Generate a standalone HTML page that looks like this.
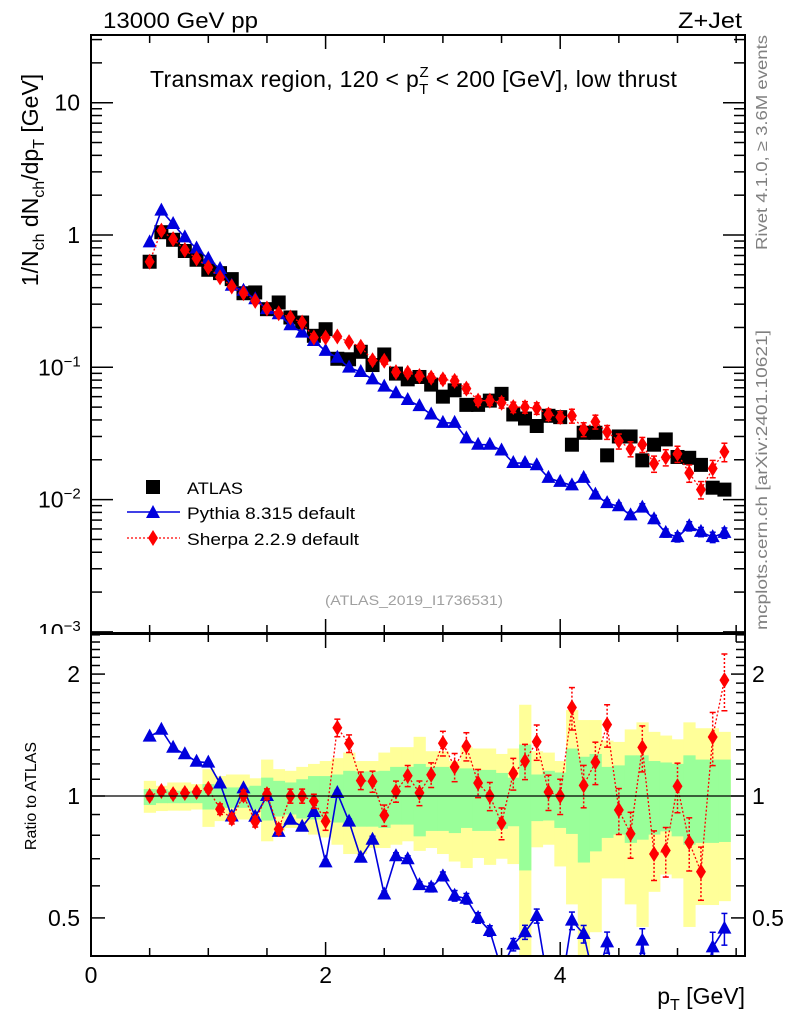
<!DOCTYPE html>
<html><head><meta charset="utf-8"><style>
html,body{margin:0;padding:0;background:#fff;overflow:hidden;width:786px;height:1024px;}
svg{display:block;font-family:"Liberation Sans",sans-serif;}
</style></head><body>
<svg id="chart" width="786" height="1024" viewBox="0 0 786 1024">
<defs>
<clipPath id="clipMain"><rect x="91" y="35" width="654" height="598"/></clipPath>
<clipPath id="clipRatio"><rect x="91" y="634" width="654" height="322"/></clipPath>
</defs>
<g id="bands" clip-path="url(#clipRatio)"></g>
<g id="grid"></g>
<g id="mainMarks" clip-path="url(#clipMain)"></g>
<g id="ratioMarks" clip-path="url(#clipRatio)"></g>
<g id="axes"></g>
<text x="103" y="28" font-size="22" textLength="155" lengthAdjust="spacingAndGlyphs">13000 GeV pp</text>
<text x="678" y="28" font-size="22" textLength="64" lengthAdjust="spacingAndGlyphs">Z+Jet</text>
<text x="150" y="87" font-size="23" letter-spacing="0.3">Transmax region, 120 &lt; p<tspan font-size="15" dy="7">T</tspan><tspan font-size="15" dx="-9" dy="-17">Z</tspan><tspan dy="10"> &lt; 200 [GeV], low thrust</tspan></text>
<text x="414" y="605" font-size="14" fill="#a0a0a0" text-anchor="middle" textLength="178" lengthAdjust="spacingAndGlyphs">(ATLAS_2019_I1736531)</text>
<text transform="translate(767,250) rotate(-90)" font-size="16" fill="#808080" textLength="215" lengthAdjust="spacingAndGlyphs">Rivet 4.1.0, ≥ 3.6M events</text>
<text transform="translate(767,630) rotate(-90)" font-size="16" fill="#808080" textLength="300" lengthAdjust="spacingAndGlyphs">mcplots.cern.ch [arXiv:2401.10621]</text>
<text transform="translate(38,180) rotate(-90)" font-size="23" text-anchor="middle">1/N<tspan font-size="16" dy="6">ch</tspan><tspan dy="-6"> dN</tspan><tspan font-size="16" dy="6">ch</tspan><tspan dy="-6">/dp</tspan><tspan font-size="16" dy="6">T</tspan><tspan dy="-6"> [GeV]</tspan></text>
<text transform="translate(36,796) rotate(-90)" font-size="16" text-anchor="middle">Ratio to ATLAS</text>
<text x="745" y="1004" font-size="23" text-anchor="end">p<tspan font-size="16" dy="6">T</tspan><tspan dy="-6"> [GeV]</tspan></text>
<g id="legend"></g>
</svg>
<script>
const xs = [0.5,0.6,0.7,0.8,0.9,1.0,1.1,1.2,1.3,1.4,1.5,1.6,1.7,1.8,1.9,2.0,2.1,2.2,2.3,2.4,2.5,2.6,2.7,2.8,2.9,3.0,3.1,3.2,3.3,3.4,3.5,3.6,3.7,3.8,3.9,4.0,4.1,4.2,4.3,4.4,4.5,4.6,4.7,4.8,4.9,5.0,5.1,5.2,5.3,5.4];
const atlas = [0.628,1.05,0.92,0.757,0.65,0.546,0.515,0.464,0.363,0.368,0.275,0.309,0.238,0.218,0.173,0.194,0.116,0.115,0.131,0.104,0.125,0.0896,0.0811,0.0845,0.074,0.060,0.067,0.052,0.052,0.056,0.063,0.044,0.041,0.036,0.043,0.042,0.026,0.032,0.032,0.0216,0.030,0.030,0.0198,0.026,0.0285,0.021,0.0207,0.0183,0.0123,0.0119];
const pythia = [0.88,1.53,1.21,0.96,0.79,0.66,0.553,0.413,0.379,0.327,0.275,0.252,0.208,0.183,0.158,0.133,0.118,0.0994,0.0922,0.0811,0.0714,0.0636,0.0566,0.0509,0.044,0.038,0.038,0.029,0.026,0.026,0.0235,0.0189,0.0189,0.0182,0.0146,0.0136,0.0128,0.0146,0.0109,0.0094,0.0089,0.0076,0.0087,0.0071,0.0056,0.0052,0.0063,0.0057,0.0052,0.0056];
const sherpa = [0.628,1.08,0.93,0.77,0.665,0.569,0.478,0.408,0.364,0.318,0.278,0.256,0.238,0.218,0.168,0.168,0.171,0.155,0.143,0.113,0.112,0.092,0.091,0.086,0.0835,0.081,0.079,0.069,0.056,0.056,0.054,0.050,0.050,0.049,0.044,0.042,0.043,0.034,0.0388,0.0324,0.0277,0.0242,0.0261,0.0187,0.0209,0.0222,0.0159,0.0119,0.0172,0.023];
const pythiaErr = [0.01,0.01,0.01,0.01,0.01,0.01,0.01,0.01,0.01,0.01,0.01,0.01,0.01,0.01,0.01,0.015,0.015,0.015,0.02,0.02,0.02,0.02,0.02,0.02,0.025,0.025,0.03,0.03,0.03,0.03,0.035,0.035,0.04,0.04,0.04,0.04,0.05,0.05,0.05,0.06,0.06,0.06,0.07,0.07,0.07,0.08,0.08,0.08,0.09,0.09];
const sherpaErr = [0.02,0.02,0.02,0.02,0.02,0.02,0.03,0.03,0.03,0.03,0.03,0.03,0.04,0.04,0.04,0.05,0.05,0.05,0.05,0.06,0.06,0.06,0.06,0.07,0.07,0.07,0.08,0.08,0.08,0.08,0.09,0.09,0.1,0.1,0.1,0.1,0.12,0.12,0.12,0.12,0.13,0.13,0.13,0.14,0.14,0.14,0.15,0.15,0.15,0.16];
const yellowHi = [1.09,1.06,1.08,1.08,1.07,1.165,1.12,1.13,1.13,1.106,1.23,1.165,1.154,1.18,1.20,1.22,1.24,1.28,1.22,1.22,1.28,1.32,1.32,1.40,1.29,1.29,1.22,1.32,1.31,1.31,1.27,1.31,1.68,1.29,1.28,1.22,1.63,1.54,1.54,1.37,1.36,1.46,1.52,1.44,1.41,1.38,1.52,1.47,1.47,1.44];
const yellowLo = [0.909,0.918,0.92,0.92,0.926,0.839,0.867,0.87,0.875,0.883,0.773,0.818,0.834,0.818,0.803,0.79,0.758,0.719,0.719,0.744,0.744,0.758,0.773,0.732,0.744,0.719,0.689,0.664,0.703,0.676,0.70,0.679,0.38,0.747,0.758,0.67,0.54,0.38,0.461,0.626,0.626,0.54,0.475,0.58,0.64,0.626,0.475,0.538,0.538,0.55];
const greenHi = [1.04,1.04,1.03,1.03,1.03,1.07,1.05,1.05,1.05,1.06,1.11,1.09,1.08,1.10,1.12,1.12,1.13,1.154,1.15,1.15,1.154,1.18,1.18,1.20,1.18,1.18,1.17,1.17,1.16,1.16,1.14,1.11,1.34,1.13,1.154,1.143,1.31,1.25,1.27,1.18,1.19,1.26,1.26,1.22,1.21,1.20,1.26,1.23,1.23,1.23];
const greenLo = [0.95,0.96,0.96,0.96,0.96,0.926,0.935,0.935,0.935,0.926,0.87,0.89,0.90,0.88,0.875,0.875,0.86,0.842,0.84,0.84,0.834,0.85,0.85,0.795,0.82,0.82,0.81,0.834,0.82,0.82,0.83,0.842,0.655,0.867,0.87,0.834,0.806,0.685,0.73,0.788,0.803,0.766,0.78,0.803,0.818,0.795,0.758,0.766,0.766,0.77];
const xTicks = [0,2,4];
const ratioTicks = [0.5,1,2];

const NS = "http://www.w3.org/2000/svg";
const X0 = 91, X1 = 745;
const xPx = v => X0 + v * 117.3;
const MT = 35, MB = 633;
const yMain = v => 102.7 + (1 - Math.log10(v)) * 132.3;
const RT = 634, RB = 956;
const yRatio = v => 796 - Math.log10(v) * 405;
function mk(tag, attrs, parent) {
  const e = document.createElementNS(NS, tag);
  for (const k in attrs) e.setAttribute(k, attrs[k]);
  parent.appendChild(e);
  return e;
}
const bands = document.getElementById('bands');
const axes = document.getElementById('axes');
const mainG = document.getElementById('mainMarks');
const ratioG = document.getElementById('ratioMarks');
const half = 0.05;
xs.forEach((x, i) => {
  const y = mk('rect', {x: xPx(x - half), y: yRatio(yellowHi[i]), width: xPx(x + half) - xPx(x - half) + 0.5, height: yRatio(yellowLo[i]) - yRatio(yellowHi[i]), fill: '#ffff99'}, bands);
  
  
});
xs.forEach((x, i) => {
  const g = mk('rect', {x: xPx(x - half), y: yRatio(greenHi[i]), width: xPx(x + half) - xPx(x - half) + 0.5, height: yRatio(greenLo[i]) - yRatio(greenHi[i]), fill: '#99ff99'}, bands);
  
  
});
const one = mk('line', {x1: X0, x2: X1, y1: yRatio(1), y2: yRatio(1), stroke: '#000', 'stroke-width': 1.3}, axes);



function tri(g, cx, cy, col) {
  return mk('polygon', {points: `${cx},${cy-8} ${cx-7},${cy+5} ${cx+7},${cy+5}`, fill: col}, g);
}
function dia(g, cx, cy, col) {
  return mk('polygon', {points: `${cx},${cy-8} ${cx+5},${cy} ${cx},${cy+8} ${cx-5},${cy}`, fill: col}, g);
}
function errBar(g, cx, y1, y2, col, dash) {
  const a = {x1: cx, x2: cx, y1: y1, y2: y2, stroke: col, 'stroke-width': 1.5};
  if (dash) a['stroke-dasharray'] = '2,2';
  mk('line', a, g);
  mk('line', {x1: cx-3, x2: cx+3, y1: y1, y2: y1, stroke: col, 'stroke-width': 1.5}, g);
  mk('line', {x1: cx-3, x2: cx+3, y1: y2, y2: y2, stroke: col, 'stroke-width': 1.5}, g);
}
function series(g, vals, errs, yfn, col, dash, shape, name) {
  const pts = xs.map((x, i) => xPx(x) + ',' + yfn(vals[i])).join(' ');
  const a = {points: pts, fill: 'none', stroke: col, 'stroke-width': dash ? 1.3 : 1.6};
  if (dash) a['stroke-dasharray'] = '2,2';
  const pl = mk('polyline', a, g);
  
  
  xs.forEach((x, i) => {
    const cx = xPx(x), cy = yfn(vals[i]);
    errBar(g, cx, yfn(vals[i] * (1 + errs[i])), yfn(vals[i] * (1 - errs[i])), col, dash);
    const m = shape(g, cx, cy, col);
    
    
  });
}
xs.forEach((x, i) => {
  const s = mk('rect', {x: xPx(x) - 7, y: yMain(atlas[i]) - 7, width: 14, height: 14, fill: '#000'}, mainG);
  
  
});
series(mainG, pythia, pythiaErr, yMain, '#0000dd', false, tri, 'pythia');
series(mainG, sherpa, sherpaErr, yMain, '#ff0000', true, dia, 'sherpa');
const pr = pythia.map((v, i) => v / atlas[i]);
const sr = sherpa.map((v, i) => v / atlas[i]);
series(ratioG, pr, pythiaErr, yRatio, '#0000dd', false, tri, 'pythia-ratio');
series(ratioG, sr, sherpaErr, yRatio, '#ff0000', true, dia, 'sherpa-ratio');

[[MT, MB, 'main-frame'], [RT, RB, 'ratio-frame']].forEach(([t, b, n]) => {
  const r = mk('rect', {x: X0, y: t, width: X1 - X0, height: b - t, fill: 'none', stroke: '#000', 'stroke-width': 2}, axes);
  
  
});
for (let v = 0; v <= 5.5; v += 0.5) {
  const major = Math.abs(v - Math.round(v / 2) * 2) < 1e-6;
  const L = major ? 14 : 8;
  [[MT, 1], [MB, -1], [RT, 1], [RB, -1]].forEach(([y, d]) => {
    mk('line', {x1: xPx(v), x2: xPx(v), y1: y, y2: y + d * L, stroke: '#000', 'stroke-width': 1.5}, axes);
  });
}
xTicks.forEach(v => {
  const t = mk('text', {x: xPx(v), y: 983, 'font-size': 23, 'text-anchor': 'middle'}, axes);
  t.textContent = v;
  
  
});
for (let e = -3; e <= 1; e++) {
  for (let m = 1; m <= 9; m++) {
    const v = m * Math.pow(10, e), y = yMain(v);
    if (y < MT || y > MB) continue;
    const L = m === 1 ? 22 : 11;
    mk('line', {x1: X0, x2: X0 + L, y1: y, y2: y, stroke: '#000', 'stroke-width': 1.5}, axes);
    mk('line', {x1: X1, x2: X1 - L, y1: y, y2: y, stroke: '#000', 'stroke-width': 1.5}, axes);
  }
}
const mainLabels = [['10', 10], ['1', 1]];
mainLabels.forEach(([s, v]) => {
  const t = mk('text', {x: 80, y: yMain(v) + 8, 'font-size': 23, 'text-anchor': 'end'}, axes);
  t.textContent = s;
  
  
});
[[-1, 0.1], [-2, 0.01], [-3, 0.001]].forEach(([e, v]) => {
  const t = mk('text', {x: 38, y: yMain(v) + 8, 'font-size': 23}, axes);
  t.innerHTML = '10<tspan font-size="15" dy="-9">' + (e === -1 ? '−1' : e === -2 ? '−2' : '−3') + '</tspan>';
  
  
});
mk('rect', {x: 30, y: MB + 1, width: 60, height: 20, fill: '#fff'}, axes);
for (let v = 0.4; v <= 2.55; v += 0.1) {
  const y = yRatio(v);
  if (y < RT || y > RB) continue;
  const maj = Math.abs(v - 0.5) < 1e-6 || Math.abs(v - 1) < 1e-6 || Math.abs(v - 2) < 1e-6;
  const L = maj ? 14 : 9;
  mk('line', {x1: X0, x2: X0 + L, y1: y, y2: y, stroke: '#000', 'stroke-width': 1.5}, axes);
  mk('line', {x1: X1, x2: X1 - L, y1: y, y2: y, stroke: '#000', 'stroke-width': 1.5}, axes);
}
ratioTicks.forEach(v => {
  const t = mk('text', {x: 80, y: yRatio(v) + 8, 'font-size': 23, 'text-anchor': 'end'}, axes);
  t.textContent = v;
  
  
  const t2 = mk('text', {x: 752, y: yRatio(v) + 8, 'font-size': 23}, axes);
  t2.textContent = v;
  
  
});
const lg = document.getElementById('legend');
const e1 = mk('rect', {x: 146, y: 480, width: 14, height: 14, fill: '#000'}, lg);


mk('line', {x1: 127, x2: 180, y1: 512, y2: 512, stroke: '#0000dd', 'stroke-width': 1.6}, lg);
tri(lg, 153, 513, '#0000dd');
mk('line', {x1: 127, x2: 180, y1: 538, y2: 538, stroke: '#ff0000', 'stroke-width': 1.3, 'stroke-dasharray': '2,2'}, lg);
dia(lg, 153, 538, '#ff0000');
[['ATLAS', 494, 56], ['Pythia 8.315 default', 519, 168], ['Sherpa 2.2.9 default', 545, 172]].forEach(([s, y, w]) => {
  const t = mk('text', {x: 187, y: y, 'font-size': 17, textLength: w, lengthAdjust: 'spacingAndGlyphs'}, lg);
  t.textContent = s;
  
  
});
</script>
</body></html>
